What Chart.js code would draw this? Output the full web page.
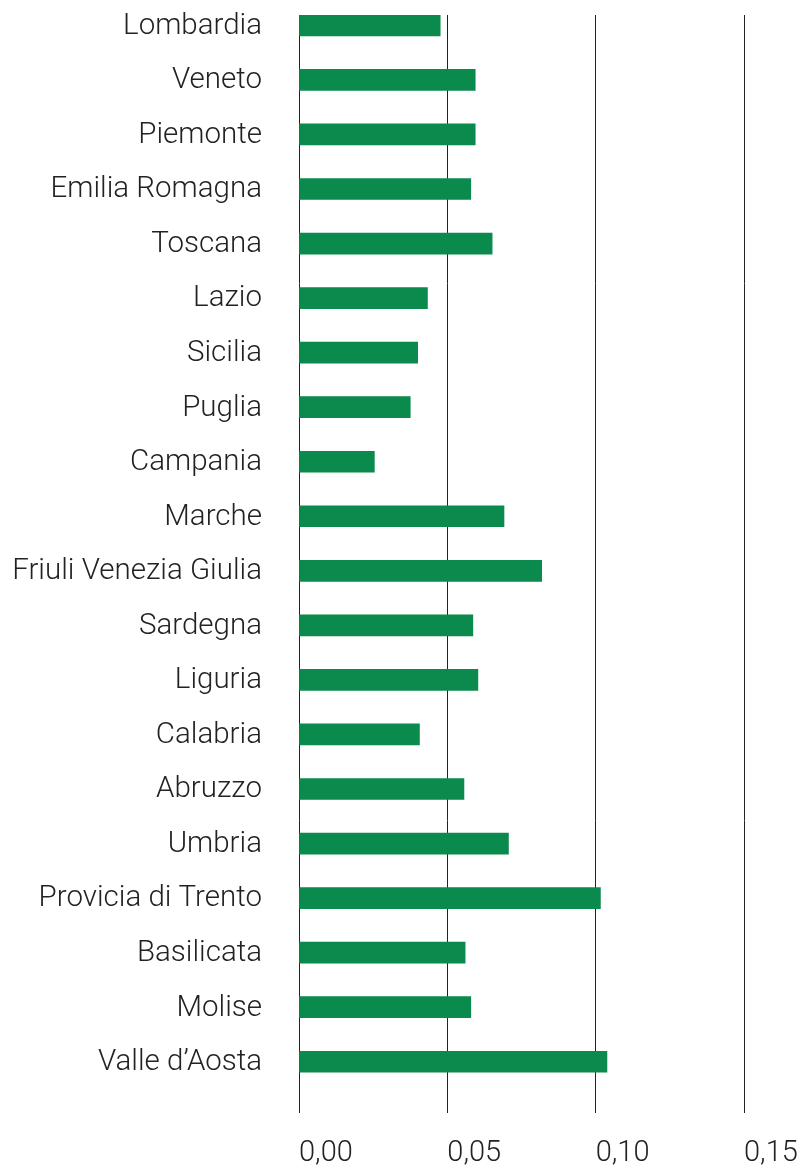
<!DOCTYPE html>
<html>
<head>
<meta charset="utf-8">
<script src="https://cdn.jsdelivr.net/npm/chart.js@4"></script>
<style>
  body { margin: 0; background: #fff; }
  #wrap { width: 798px; height: 1167px; position: relative; }
</style>
</head>
<body>
<div id="wrap"><canvas id="myChart"></canvas></div>
<script>
// regioni, dall'alto verso il basso
let regioni = [
    'Lombardia', 'Veneto', 'Piemonte', 'Emilia Romagna', 'Toscana',
    'Lazio', 'Sicilia', 'Puglia', 'Campania', 'Marche',
    'Friuli Venezia Giulia', 'Sardegna', 'Liguria', 'Calabria', 'Abruzzo',
    'Umbria', 'Provicia di Trento', 'Basilicata', 'Molise', "Valle d\u2019Aosta"
];
let valori = [
    0.0476, 0.0594, 0.0594, 0.0579, 0.0651,
    0.0433, 0.0400, 0.0375, 0.0254, 0.0691,
    0.0818, 0.0586, 0.0603, 0.0406, 0.0556,
    0.0706, 0.1016, 0.0560, 0.0579, 0.1038
];
let xTicks = [0, 0.05, 0.10, 0.15];
let xTickLabels = ['0,00', '0,05', '0,10', '0,15'];

let verde = '#0b8a4d';
let testo = '#222';

let punti = valori.map((v, i) => ({ x: v, y: i }));

let ctx = document.getElementById('myChart').getContext('2d');

let chart = new Chart(ctx, {
    type: 'bar',
    data: {
        datasets: [{
            data: punti,
            backgroundColor: verde,
            borderWidth: 0,
            barThickness: 21
        }]
    },
    options: {
        indexAxis: 'y',
        responsive: true,
        maintainAspectRatio: false,
        animation: false,
        layout: { padding: { top: 15, right: 54, left: 0, bottom: 0 } },
        plugins: {
            legend: { display: false },
            tooltip: { enabled: false }
        },
        scales: {
            x: {
                type: 'linear',
                position: 'bottom',
                min: 0,
                max: 0.15,
                z: 1,
                afterBuildTicks: (scale) => {
                    scale.ticks = xTicks.map(v => ({ value: v }));
                },
                afterFit: (scale) => {
                    scale.height = 78;
                    scale.paddingLeft = 0;
                    scale.paddingRight = 0;
                },
                ticks: {
                    align: 'start',
                    padding: 23,
                    color: testo,
                    font: { family: 'Roboto', size: 29, weight: '300' },
                    callback: (value, index) => xTickLabels[index]
                },
                grid: {
                    color: '#222',
                    lineWidth: 1,
                    drawTicks: true,
                    tickLength: 24,
                    tickColor: '#222'
                },
                border: { display: false }
            },
            y: {
                type: 'linear',
                reverse: true,
                offset: false,
                bounds: 'data',
                min: -0.19,
                max: 19.5,
                afterBuildTicks: (scale) => {
                    scale.ticks = regioni.map((r, i) => ({ value: i }));
                },
                afterFit: (scale) => {
                    scale.width = 299;
                    scale.paddingTop = 0;
                    scale.paddingBottom = 0;
                },
                ticks: {
                    padding: 37,
                    labelOffset: 1,
                    color: testo,
                    font: { family: 'Roboto', size: 29.5, weight: '300', lineHeight: 1 },
                    callback: (value) => regioni[value]
                },
                grid: { display: false, drawTicks: false, offset: false },
                border: { display: false }
            }
        }
    }
});
</script>
</body>
</html>
